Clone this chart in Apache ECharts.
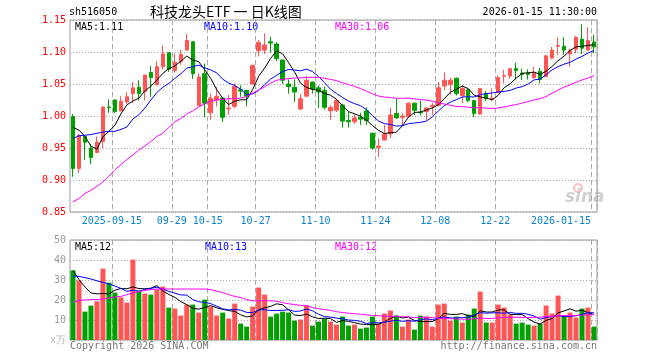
<!DOCTYPE html>
<html><head><meta charset="utf-8">
<script src="https://cdn.jsdelivr.net/npm/echarts@6/dist/echarts.min.js"></script>
<style>html,body{margin:0;padding:0;background:#fff}#c{width:660px;height:360px}</style>
</head><body><div id="c"></div>
<script>
const dates = [
'2025-09-04','2025-09-05','2025-09-08','2025-09-09','2025-09-10','2025-09-11','2025-09-12','2025-09-15','2025-09-16','2025-09-17',
'2025-09-18','2025-09-19','2025-09-22','2025-09-23','2025-09-24','2025-09-25','2025-09-26','2025-09-29','2025-09-30','2025-10-09',
'2025-10-10','2025-10-13','2025-10-14','2025-10-15','2025-10-16','2025-10-17','2025-10-20','2025-10-21','2025-10-22','2025-10-23',
'2025-10-24','2025-10-27','2025-10-28','2025-10-29','2025-10-30','2025-10-31','2025-11-03','2025-11-04','2025-11-05','2025-11-06',
'2025-11-07','2025-11-10','2025-11-11','2025-11-12','2025-11-13','2025-11-14','2025-11-17','2025-11-18','2025-11-19','2025-11-20',
'2025-11-21','2025-11-24','2025-11-25','2025-11-26','2025-11-27','2025-11-28','2025-12-01','2025-12-02','2025-12-03','2025-12-04',
'2025-12-05','2025-12-08','2025-12-09','2025-12-10','2025-12-11','2025-12-12','2025-12-15','2025-12-16','2025-12-17','2025-12-18',
'2025-12-19','2025-12-22','2025-12-23','2025-12-24','2025-12-25','2025-12-26','2025-12-29','2025-12-30','2025-12-31','2026-01-05',
'2026-01-06','2026-01-07','2026-01-08','2026-01-09','2026-01-12','2026-01-13','2026-01-14','2026-01-15'];
const opens = [0.999,0.918,0.968,0.950,0.943,0.960,1.014,1.025,1.008,1.022,
1.035,1.045,1.038,1.068,1.049,1.077,1.099,1.071,1.085,1.103,
1.116,1.016,1.066,1.005,1.025,1.028,1.011,1.015,1.041,1.040,
1.050,1.102,1.103,1.116,1.1125,1.0875,1.050,1.045,1.011,1.031,
1.053,1.044,1.040,1.008,1.009,1.017,0.993,0.991,0.998,1.008,
0.973,0.951,0.9625,0.972,1.004,0.998,0.999,1.020,1.006,1.007,
1.0145,1.0167,1.047,1.049,1.059,1.032,1.041,1.024,1.003,1.0355,
1.026,1.0365,1.062,1.0625,1.074,1.067,1.067,1.060,1.070,1.0615,
1.0906,1.109,1.109,1.097,1.104,1.120,1.103,1.1156];
const closes = [0.918,0.970,0.959,0.935,0.959,1.014,1.013,1.007,1.023,1.030,
1.044,1.035,1.064,1.060,1.077,1.097,1.073,1.084,1.096,1.118,
1.066,1.061,1.020,1.028,1.031,0.998,1.0125,1.046,1.039,1.031,
1.079,1.115,1.111,1.114,1.090,1.056,1.046,1.0375,1.027,1.056,
1.042,1.0375,1.0135,1.0135,1.024,0.992,0.991,0.997,0.995,0.993,
0.950,0.953,0.972,1.0015,0.997,1.000,1.020,1.009,1.005,1.0125,
1.0167,1.044,1.056,1.056,1.035,1.043,1.024,1.004,1.043,1.027,
1.028,1.060,1.063,1.074,1.071,1.065,1.065,1.068,1.057,1.094,
1.103,1.110,1.103,1.102,1.123,1.106,1.118,1.108];
const lows = [0.905,0.911,0.931,0.925,0.942,0.950,1.005,1.004,1.008,1.019,
1.020,1.024,1.024,1.030,1.048,1.073,1.069,1.068,1.080,1.102,
1.058,1.016,0.998,0.994,1.015,0.991,1.002,1.012,1.030,1.015,
1.049,1.093,1.097,1.099,1.086,1.050,1.035,1.022,1.009,1.030,
1.035,1.0125,1.010,0.994,1.006,0.982,0.982,0.9875,0.986,0.986,
0.947,0.936,0.962,0.965,0.996,0.985,0.998,1.0015,1.001,0.993,
1.002,1.016,1.040,1.033,1.032,1.020,1.022,0.998,1.002,1.023,
1.023,1.036,1.051,1.058,1.057,1.056,1.057,1.058,1.051,1.061,
1.0885,1.095,1.096,1.077,1.098,1.097,1.102,1.098];
const highs = [1.003,0.972,0.970,0.956,0.968,1.015,1.026,1.026,1.031,1.037,
1.053,1.056,1.064,1.078,1.086,1.110,1.100,1.098,1.103,1.128,
1.117,1.067,1.082,1.035,1.045,1.029,1.033,1.051,1.048,1.041,
1.080,1.119,1.129,1.124,1.115,1.088,1.057,1.057,1.034,1.0625,
1.054,1.048,1.046,1.017,1.027,1.019,1.006,1.003,1.005,1.0135,
0.974,0.965,0.986,1.0125,1.027,1.004,1.021,1.021,1.024,1.0135,
1.020,1.053,1.068,1.060,1.060,1.048,1.043,1.025,1.044,1.039,
1.043,1.0635,1.072,1.075,1.083,1.074,1.073,1.077,1.075,1.095,
1.108,1.123,1.123,1.105,1.125,1.143,1.1385,1.127];
const volumes = [34.8,29.8,14.2,17.2,19.3,35.7,28.7,23.7,21.3,18.7,
40.2,24.7,23.2,22.7,25.2,26.7,16.2,15.7,12.2,17.7,
17.7,13.7,20.2,16.7,12.2,13.7,10.7,18.2,8.2,6.7,
16.7,26.2,22.7,11.7,13.2,14.2,13.7,9.7,10.2,17.2,
7.2,9.2,10.7,9.2,7.7,11.7,7.2,7.7,5.7,6.2,
11.7,8.2,13.2,14.7,12.2,6.7,10.2,5.2,12.2,11.7,
6.7,17.7,18.2,9.7,11.7,8.7,12.7,15.7,24.2,8.7,
8.7,17.7,16.2,12.7,8.2,8.7,7.7,7.2,8.2,17.2,
13.2,22.2,11.7,13.7,11.2,15.7,16.2,6.7];
// MA values for the first days (history before the window)
const ma5Lead = [0.982,0.978,0.968,0.953];
const ma10Lead = [0.965,0.969,0.970,0.971,0.973,0.975,0.976,0.976,0.979];
const ma30Lead = [0.866,0.871,0.879,0.884,0.890,0.897,0.906,0.916,0.924,0.932,0.939,0.947,0.953,0.960,0.968,0.973,0.982,0.991,0.996,1.003,1.008,1.014,1.019,1.023,1.025,1.026,1.027,1.027,1.028];
const vma5Lead = [34.8,30.2,26.5,23.5];
const vma10Lead = [32,31.8,31.2,30.5,29.6,28.8,28,27,25.8];
const vma30Lead = [18.8,19.8,20,20.2,20.2,20.5,21,21.5,21.8,22.7,23.5,24.2,24.8,25.2,25.5,25.5,25.5,25.5,25.5,25.5,25.5,25.5,25.5,25.2,24.5,23.7,22.7,21.8,21.2];
const tickIdx = [7,17,23,31,41,51,61,71,87];
const tickLabels = ['2025-09-15','09-29','10-15','10-27','11-10','11-24','12-08','12-22','2026-01-15'];
const legendPrice = ['MA5:1.11','MA10:1.10','MA30:1.06'];
const legendVol = ['MA5:12','MA10:13','MA30:12'];

function movingAvg(arr, n, lead){
  return arr.map((_, i) => {
    if (i < n - 1) return lead[i];
    let s = 0; for (let j = i - n + 1; j <= i; j++) s += arr[j];
    return s / n;
  });
}
const UP = '#ff5555', DOWN = '#00a000';
const ohlc = dates.map((d, i) => [opens[i], closes[i], lows[i], highs[i]]);
const volData = volumes.map((v, i) => ({value: v, itemStyle: {color: closes[i] >= opens[i] ? UP : DOWN}}));
const FONT = 'DejaVu Sans Mono';
const isTick = (i) => tickIdx.indexOf(i) >= 0;
const vSplit = {show: true, interval: (i) => isTick(i), lineStyle: {color: '#aaa', type: [5, 3], width: 1}};
const hSplit = {show: true, lineStyle: {color: '#aaa', type: [1, 2], width: 1}};
const lineS = (name, data, color, xi, yi) => ({name, type: 'line', data, xAxisIndex: xi, yAxisIndex: yi, symbol: 'none', smooth: false, silent: true, animation: false, lineStyle: {color, width: 1}, z: 5});

const chart = echarts.init(document.getElementById('c'), null, {renderer: 'canvas'});
chart.setOption({
  animation: false,
  backgroundColor: '#fff',
  grid: [
    {left: 70, top: 20, width: 527, height: 192, show: true, borderColor: '#999', borderWidth: 1, backgroundColor: 'transparent'},
    {left: 70, top: 240, width: 527, height: 100, show: true, borderColor: '#999', borderWidth: 1, backgroundColor: 'transparent'}
  ],
  xAxis: [
    {type: 'category', gridIndex: 0, data: dates, boundaryGap: true,
     axisLine: {show: false}, axisTick: {show: false},
     axisLabel: {show: true, interval: (i) => isTick(i), margin: 4, color: '#0a84d0', fontFamily: FONT, fontSize: 10,
       formatter: (v, i) => { const k = tickIdx.indexOf(i); if (k < 0) return ''; return (i === 87 ? '{e|' : '{n|') + tickLabels[k] + '}'; },
       rich: {n: {padding: [0, 6, 0, 0], color: '#0a84d0', fontFamily: FONT, fontSize: 10}, e: {padding: [0, 66, 0, 0], color: '#0a84d0', fontFamily: FONT, fontSize: 10}}},
     splitLine: vSplit},
    {type: 'category', gridIndex: 1, data: dates, boundaryGap: true,
     axisLine: {show: false}, axisTick: {show: false}, axisLabel: {show: false}, splitLine: vSplit}
  ],
  yAxis: [
    {type: 'value', gridIndex: 0, min: 0.85, max: 1.15, interval: 0.05, scale: false,
     axisLine: {show: false}, axisTick: {show: false},
     axisLabel: {color: '#ff0000', fontFamily: FONT, fontSize: 10, margin: 4, formatter: (v) => v.toFixed(2)},
     splitLine: hSplit},
    {type: 'value', gridIndex: 1, min: 0, max: 50, interval: 10,
     axisLine: {show: false}, axisTick: {show: false},
     axisLabel: {color: '#999', fontFamily: FONT, fontSize: 10, margin: 4,
       formatter: (v) => v === 0 ? '{u|x万}' : String(v), rich: {u: {color: '#bbb', fontSize: 10, fontFamily: FONT}}},
     splitLine: hSplit}
  ],
  series: [
    {type: 'candlestick', xAxisIndex: 0, yAxisIndex: 0, data: ohlc, barWidth: 4, silent: true,
     itemStyle: {color: UP, color0: DOWN, borderColor: UP, borderColor0: DOWN, borderWidth: 1}, z: 3},
    lineS('MA5', movingAvg(closes, 5, ma5Lead), '#000000', 0, 0),
    lineS('MA10', movingAvg(closes, 10, ma10Lead), '#0000ff', 0, 0),
    lineS('MA30', movingAvg(closes, 30, ma30Lead), '#ff00ff', 0, 0),
    {type: 'bar', xAxisIndex: 1, yAxisIndex: 1, data: volData, barWidth: 5, silent: true, z: 3},
    lineS('VMA5', movingAvg(volumes, 5, vma5Lead), '#000000', 1, 1),
    lineS('VMA10', movingAvg(volumes, 10, vma10Lead), '#0000ff', 1, 1),
    lineS('VMA30', movingAvg(volumes, 30, vma30Lead), '#ff00ff', 1, 1)
  ],
  graphic: [
    {type: 'text', left: 69, top: 7, style: {text: 'sh516050', font: '10px "DejaVu Sans Mono"', fill: '#000'}},
    {type: 'text', left: 150, top: 5, style: {text: '科技龙头ETF 一 日K线图', font: '14px "Noto Sans CJK SC"', fill: '#000'}},
    {type: 'text', right: 63, top: 7, style: {text: '2026-01-15 11:30:00', font: '10px "DejaVu Sans Mono"', fill: '#000'}},
    {type: 'text', left: 75, top: 22, style: {text: legendPrice[0], font: '10px "DejaVu Sans Mono"', fill: '#000'}},
    {type: 'text', left: 204, top: 22, style: {text: legendPrice[1], font: '10px "DejaVu Sans Mono"', fill: '#0000ff'}},
    {type: 'text', left: 335, top: 22, style: {text: legendPrice[2], font: '10px "DejaVu Sans Mono"', fill: '#ff00ff'}},
    {type: 'text', left: 75, top: 242, style: {text: legendVol[0], font: '10px "DejaVu Sans Mono"', fill: '#000'}},
    {type: 'text', left: 205, top: 242, style: {text: legendVol[1], font: '10px "DejaVu Sans Mono"', fill: '#0000ff'}},
    {type: 'text', left: 335, top: 242, style: {text: legendVol[2], font: '10px "DejaVu Sans Mono"', fill: '#ff00ff'}},
    {type: 'text', left: 70, top: 341, style: {text: 'Copyright 2026 SINA.COM', font: '10px "DejaVu Sans Mono"', fill: '#777'}},
    {type: 'text', right: 63, top: 341, style: {text: 'http://finance.sina.com.cn', font: '10px "DejaVu Sans Mono"', fill: '#777'}},
    {type: 'circle', shape: {cx: 578, cy: 188, r: 4}, style: {fill: 'none', stroke: 'rgba(230,120,120,0.45)', lineWidth: 2}, z: 1},
    {type: 'text', left: 565, top: 189, style: {text: 'sina', font: 'italic bold 17px "DejaVu Sans"', fill: 'rgba(170,170,170,0.55)'}, z: 1}
  ]
});
</script>
</body></html>
